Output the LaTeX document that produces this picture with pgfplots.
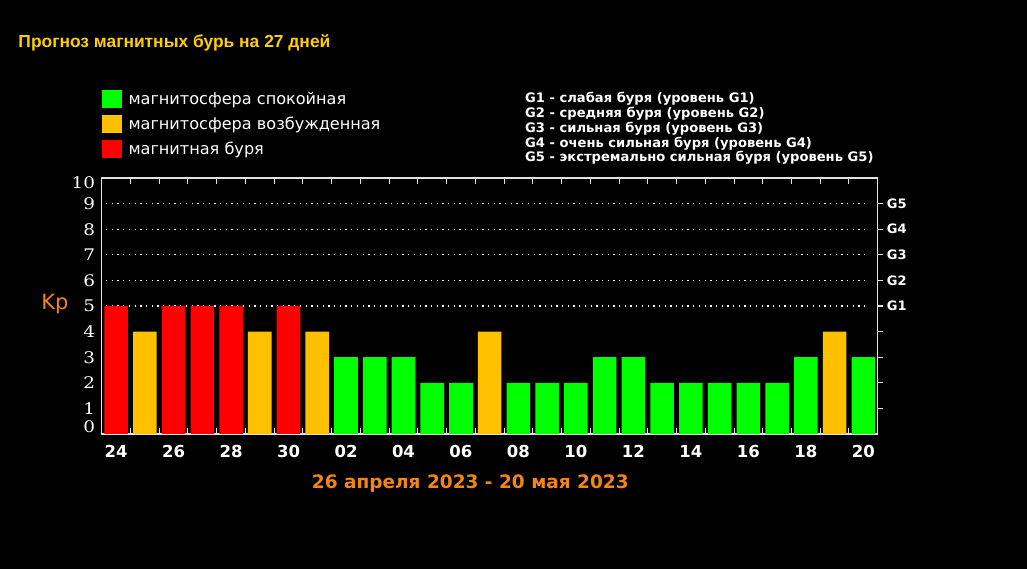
\documentclass[border=0pt]{standalone}
\usepackage{fontspec}
\usepackage{pgfplots}
\pgfplotsset{compat=1.18}
\setmainfont{DejaVu Sans}
\newfontfamily\yfont[FakeStretch=1.15]{DejaVu Serif}
\newfontfamily\tfont{Liberation Sans}
\definecolor{kgreen}{RGB}{0,255,0}
\definecolor{korange}{RGB}{255,192,0}
\definecolor{kred}{RGB}{255,0,0}
\definecolor{ktitle}{RGB}{255,206,0}
\definecolor{kdate}{RGB}{242,132,24}
\definecolor{kaxis}{RGB}{225,225,225}
\pgfplotstableread{
x y
0 5
2 5
3 5
4 5
6 5
}\redtab
\pgfplotstableread{
x y
1 4
5 4
7 4
13 4
25 4
}\orangetab
\pgfplotstableread{
x y
8 3
9 3
10 3
11 2
12 2
14 2
15 2
16 2
17 3
18 3
19 2
20 2
21 2
22 2
23 2
24 3
26 3
}\greentab
\begin{document}
\begin{tikzpicture}[x=1bp,y=1bp]
\fill[black] (0,0) rectangle (1027,569);
% title
\node[anchor=base west, inner sep=0pt, text=ktitle, font=\tfont\bfseries\fontsize{17.4bp}{19bp}\selectfont] at (18.3,521.7) {Прогноз магнитных бурь на 27 дней};
% legend (left)
\fill[kgreen] (101.7,461) rectangle (121.7,479);
\fill[korange] (101.7,436) rectangle (121.7,454);
\fill[kred] (101.7,411) rectangle (121.7,429);
\node[anchor=base west, inner sep=0pt, text=white, font=\fontsize{16.1bp}{18bp}\selectfont] at (128.3,464) {магнитосфера спокойная};
\node[anchor=base west, inner sep=0pt, text=white, font=\fontsize{16.1bp}{18bp}\selectfont] at (128.3,439) {магнитосфера возбужденная};
\node[anchor=base west, inner sep=0pt, text=white, font=\fontsize{16.1bp}{18bp}\selectfont] at (128.3,414) {магнитная буря};
% legend (right)
\node[anchor=base west, inner sep=0pt, text=white, font=\bfseries\fontsize{13.1bp}{14bp}\selectfont] at (525,466) {G1 - слабая буря (уровень G1)};
\node[anchor=base west, inner sep=0pt, text=white, font=\bfseries\fontsize{13.1bp}{14bp}\selectfont] at (525,451.3) {G2 - средняя буря (уровень G2)};
\node[anchor=base west, inner sep=0pt, text=white, font=\bfseries\fontsize{13.1bp}{14bp}\selectfont] at (525,436.6) {G3 - сильная буря (уровень G3)};
\node[anchor=base west, inner sep=0pt, text=white, font=\bfseries\fontsize{13.1bp}{14bp}\selectfont] at (525,421.9) {G4 - очень сильная буря (уровень G4)};
\node[anchor=base west, inner sep=0pt, text=white, font=\bfseries\fontsize{13.1bp}{14bp}\selectfont] at (525,407.2) {G5 - экстремально сильная буря (уровень G5)};
% Kp and date
\node[anchor=base west, inner sep=0pt, text=kdate, font=\fontsize{21bp}{23bp}\selectfont] at (41.2,259) {Kp};
\node[anchor=base west, inner sep=0pt, text=kdate, font=\bfseries\fontsize{18.5bp}{20bp}\selectfont] at (311.7,80.7) {26 апреля 2023 - 20 мая 2023};
\begin{axis}[
  at={(101.7bp,135bp)}, anchor=south west,
  scale only axis, width=776bp, height=256bp,
  xmin=-0.5, xmax=26.5, ymin=0, ymax=10,
  axis line style={kaxis, line width=1.3bp},
  xtick={0,2,...,26},
  xticklabels={24,26,28,30,02,04,06,08,10,12,14,16,18,20},
  major tick length=0pt,
  extra x ticks={0.5,1.5,...,25.5},
  extra x tick labels={},
  extra x tick style={major tick length=6bp, tick style={kaxis, line width=1bp}},
  xticklabel style={font=\bfseries\fontsize{16.5bp}{18bp}\selectfont, text=white, anchor=base, yshift=-24bp, inner sep=0pt},
  ytick={0.27,1,2,3,4,5,6,7,8,9,9.8},
  yticklabels={0,1,2,3,4,5,6,7,8,9,10},
  yticklabel style={font=\yfont\fontsize{16bp}{18bp}\selectfont, text=white, anchor=base east, inner sep=0pt, xshift=-6.5bp, yshift=-5.83bp},
  clip=false,
]
\pgfplotsinvokeforeach{5,...,9}{
  \draw[white, line width=1.3bp, dash pattern=on 1.3bp off 4.4bp] (axis cs:-0.35,#1) -- (axis cs:26.2,#1);
}
\pgfplotsinvokeforeach{1,...,9}{
  \draw[kaxis, line width=1.3bp] (axis cs:26.5,#1) -- ++(-8.7bp,0);
}
\addplot[ybar, bar width=0.82, bar shift=0pt, fill=kred, draw=none] table[x=x,y=y] {\redtab};
\addplot[ybar, bar width=0.82, bar shift=0pt, fill=korange, draw=none] table[x=x,y=y] {\orangetab};
\addplot[ybar, bar width=0.82, bar shift=0pt, fill=kgreen, draw=none] table[x=x,y=y] {\greentab};
\node[anchor=west, inner sep=0pt, text=white, font=\bfseries\fontsize{13bp}{14bp}\selectfont, xshift=9bp] at (axis cs:26.5,5) {G1};
\node[anchor=west, inner sep=0pt, text=white, font=\bfseries\fontsize{13bp}{14bp}\selectfont, xshift=9bp] at (axis cs:26.5,6) {G2};
\node[anchor=west, inner sep=0pt, text=white, font=\bfseries\fontsize{13bp}{14bp}\selectfont, xshift=9bp] at (axis cs:26.5,7) {G3};
\node[anchor=west, inner sep=0pt, text=white, font=\bfseries\fontsize{13bp}{14bp}\selectfont, xshift=9bp] at (axis cs:26.5,8) {G4};
\node[anchor=west, inner sep=0pt, text=white, font=\bfseries\fontsize{13bp}{14bp}\selectfont, xshift=9bp] at (axis cs:26.5,9) {G5};
\end{axis}
\end{tikzpicture}
\end{document}
